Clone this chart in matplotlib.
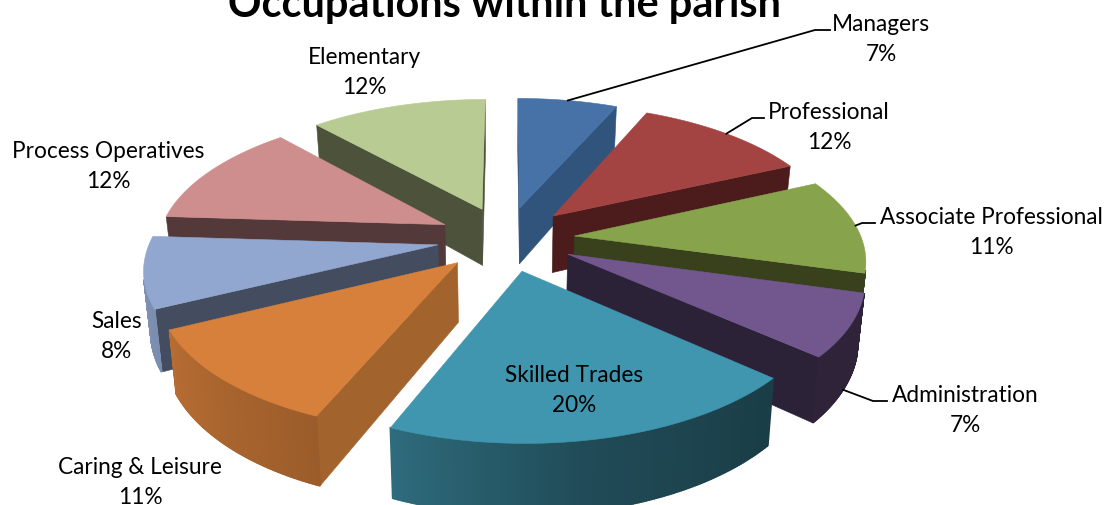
import numpy as np
import matplotlib
matplotlib.use("Agg")
import matplotlib.pyplot as plt
from matplotlib.colors import to_rgb

# chart data
categories = ["Managers", "Professional", "Associate Professional", "Administration",
              "Skilled Trades", "Caring & Leisure", "Sales", "Process Operatives", "Elementary"]
shares = [6.6, 11.6, 11.1, 7.2, 19.8, 11.45, 8.25, 12.3, 11.7]

top_colors = ["#4672A8", "#A44442", "#87A44D", "#72578F", "#4096AE",
              "#D7803B", "#91A7CF", "#CE8E8D", "#B8CB92"]
wall_colors = ["#31547C", "#4C1C1C", "#39401C", "#2B2238", "#1B3A46",
               "#A3632D", "#434D5F", "#53393A", "#4D533A"]

# label centres and leader lines, in pixels of the 1105x506 picture
label_pos = [(881, 39.5), (829, 127.5), (991, 232.5), (965, 410.5), (574, 390.5),
             (140, 482.5), (117, 336.5), (108, 166.5), (364, 72.5)]
leaders = {0: [(815, 31), (830, 31)], 1: [(752, 119), (764, 119)],
           2: [(862, 224), (875, 224)], 3: [(873, 402), (887, 402)]}
leader_from_bottom = [3]

# fake 3d camera
CX, CY = 506, 239.5
RX, RY = 287, 134.8
PERSP = 0.1526
EXPLODE = 0.24
DEPTH = 58
BOTTOM_X = 0.98


def project(x, y, bottom=False):
    s = 1 / (1 + PERSP * y)
    px = CX + RX * x * s
    py = CY - RY * y * s
    if bottom:
        px = CX + (px - CX) * BOTTOM_X
        py = py + DEPTH * s
    return px, py


def outer_shade(deg):
    # how light the rim gets going round the pie
    return np.interp(deg % 360, [100, 130, 170, 205, 245, 270, 360], [0.40, 0.40, 0.50, 0.73, 0.85, 0.88, 0.88])


def area(xs, ys):
    return 0.5 * np.sum(np.array(xs) * np.roll(ys, -1) - np.roll(xs, -1) * np.array(ys))


def draw_quad(ax, a, b, color, lw=0.4):
    # wall between the top edge a-b and the same edge on the bottom
    xs = [project(*a)[0], project(*b)[0], project(*b, bottom=True)[0], project(*a, bottom=True)[0]]
    ys = [project(*a)[1], project(*b)[1], project(*b, bottom=True)[1], project(*a, bottom=True)[1]]
    if area(xs, ys) < 0:
        ax.fill(xs, ys, color=color, lw=lw, zorder=2)


fig = plt.figure(figsize=(11.05, 5.06), dpi=100)
ax = fig.add_axes([0, 0, 1, 1])
ax.set_xlim(0, 1105)
ax.set_ylim(506, 0)
ax.axis("off")

edges = np.concatenate([[0], np.cumsum(shares)]) / np.sum(shares) * 360
mids = (edges[:-1] + edges[1:]) / 2

# back slices first so the front ones cover them
order = np.argsort(-np.cos(np.radians(mids)))
for i in order:
    ex = EXPLODE * np.sin(np.radians(mids[i]))
    ey = EXPLODE * np.cos(np.radians(mids[i]))
    deg = np.linspace(edges[i], edges[i + 1], 150)
    rim_x = ex + np.sin(np.radians(deg))
    rim_y = ey + np.cos(np.radians(deg))

    # radial walls
    draw_quad(ax, (ex, ey), (rim_x[0], rim_y[0]), wall_colors[i])
    draw_quad(ax, (rim_x[-1], rim_y[-1]), (ex, ey), wall_colors[i])

    # curved rim, small pieces so the shade can change
    base = np.array(to_rgb(top_colors[i]))
    for j in range(len(deg) - 1):
        col = base * outer_shade((deg[j] + deg[j + 1]) / 2)
        draw_quad(ax, (rim_x[j], rim_y[j]), (rim_x[j + 1], rim_y[j + 1]), tuple(col), lw=1.2)

    # top face
    tx, ty = project(np.r_[ex, rim_x], np.r_[ey, rim_y])
    ax.fill(tx, ty, color=top_colors[i], lw=0.4, zorder=2)

    # leader line starts on the rim, at the middle of the slice
    if i in leaders:
        sx, sy = project(ex + np.sin(np.radians(mids[i])), ey + np.cos(np.radians(mids[i])),
                         bottom=i in leader_from_bottom)
        pts = [(sx, sy)] + leaders[i]
        ax.plot([p[0] for p in pts], [p[1] for p in pts], color="black", lw=1.3, zorder=3)

for name, val, (lx, ly) in zip(categories, shares, label_pos):
    ax.text(lx, ly, f"{name}\n{val:.0f}%", ha="center", va="center", family="Lato",
            fontsize=16.3, linespacing=1.52, color="black", zorder=4)

ax.text(505, 17, "Occupations within the parish", ha="center", va="baseline",
        family="Lato", fontweight="bold", fontsize=29.9, color="black", zorder=4)

fig.savefig("out.png", dpi=100)
